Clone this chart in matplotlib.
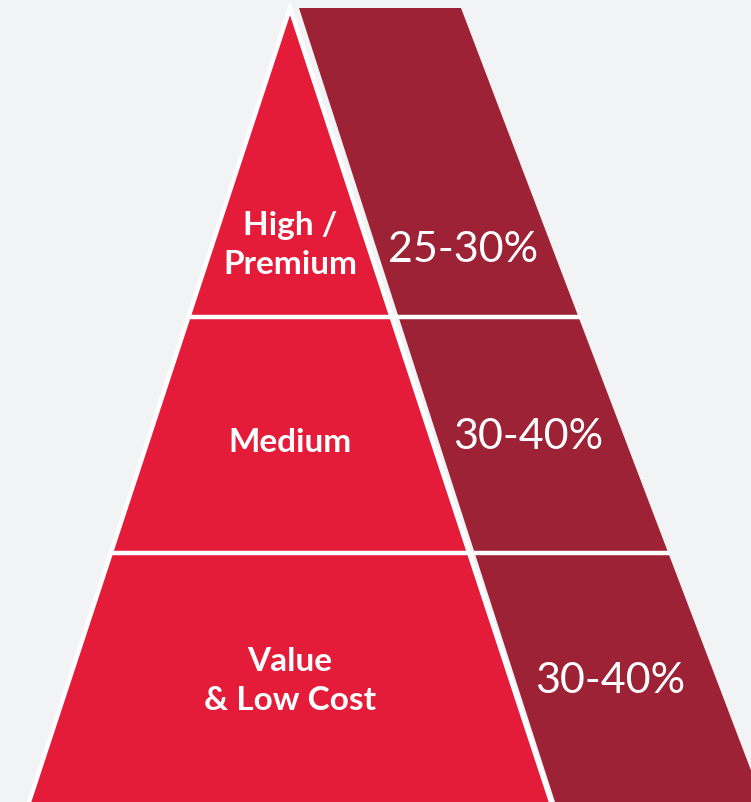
import matplotlib.pyplot as plt
from matplotlib.patches import Polygon

# pyramid tiers, top to bottom
tiers = ["High /\nPremium", "Medium", "Value\n& Low Cost"]
shares = ["25-30%", "30-40%", "30-40%"]

BG = "#F2F3F5"
RED = "#E41B39"
DARK = "#9D2236"

W, H = 751, 802
apex = (290, 8)
base_y = 802
half_base = 261
cuts = [317, 553]          # y of the white separators
label_y = [245, 442, 681]  # text centres inside each tier
share_y = [250, 437, 681]

fig = plt.figure(figsize=(W / 100, H / 100), dpi=100, facecolor=BG)
ax = fig.add_axes([0, 0, 1, 1])
ax.set_xlim(0, W)
ax.set_ylim(H, 0)
ax.axis("off")
ax.set_facecolor(BG)

slope = half_base / (base_y - apex[1])


def red_left(y):
    return apex[0] - slope * (y - apex[1])


def red_right(y):
    return apex[0] + slope * (y - apex[1])


# dark band running down the right side of the pyramid
band_top = (299, 461)
band_bot = (555, 763)
ax.add_patch(Polygon([(band_top[0], 8), (band_top[1], 8),
                      (band_bot[1], base_y), (band_bot[0], base_y)],
                     closed=True, facecolor=DARK, edgecolor="none", zorder=1))

# red triangle with a white outline
ax.add_patch(Polygon([apex, (red_left(base_y + 20), base_y + 20),
                      (red_right(base_y + 20), base_y + 20)],
                     closed=True, facecolor=RED, edgecolor="white",
                     linewidth=3.2, joinstyle="miter", zorder=2))

# horizontal separators across both shapes
for y in cuts:
    x_end = band_top[1] + (band_bot[1] - band_top[1]) * (y - 8) / (base_y - 8)
    ax.plot([red_left(y) - 2, x_end + 2], [y, y], color="white",
            linewidth=3.2, solid_capstyle="butt", zorder=3)

for txt, y in zip(tiers, label_y):
    ax.text(290, y, txt, ha="center", va="center", color="white",
            fontsize=24, fontweight="bold", family="Lato",
            linespacing=1.45, zorder=4)

share_x = [463, 528, 610]
for txt, x, y in zip(shares, share_x, share_y):
    ax.text(x, y, txt, ha="center", va="center", color="white",
            fontsize=31, family="Lato", zorder=4)

fig.savefig("out.png", dpi=100, facecolor=BG)
